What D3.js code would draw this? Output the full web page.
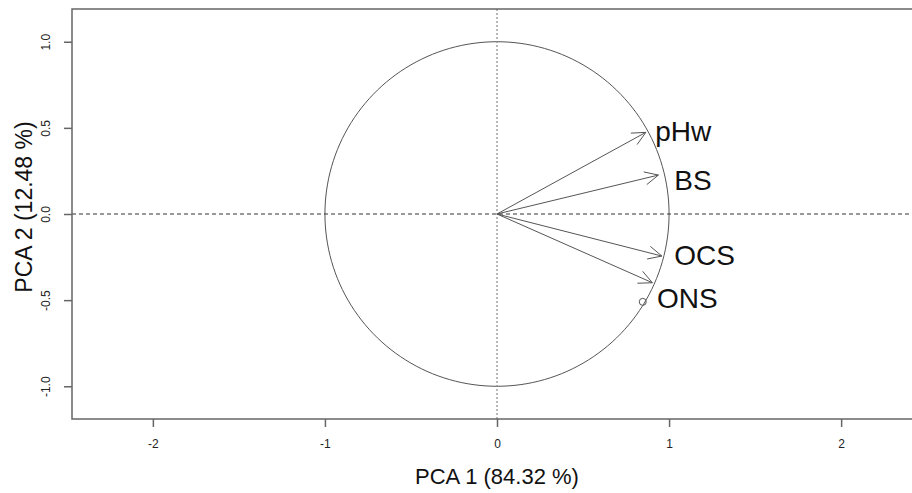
<!DOCTYPE html>
<html>
<head>
<meta charset="utf-8">
<script src="https://cdn.jsdelivr.net/npm/d3@7"></script>
<style>
  html, body { margin: 0; padding: 0; background: #fff; }
  svg { display: block; font-family: "Liberation Sans", Arial, sans-serif; }
</style>
</head>
<body>
<svg id="pca"></svg>
<script>
var _W = 912,
  _H = 493,
  _LEFT = 72,
  _RIGHT = 922,
  _TOP = 9,
  _BOTTOM = 419;

// variables and their loadings on PC1 / PC2
var varNames = ["pHw", "BS", "OCS", "ONS"];
var pc1 = [0.865, 0.938, 0.958, 0.903];
var pc2 = [0.474, 0.226, -0.244, -0.399];
// where the labels sit (data units, left edge / middle)
var labelX = [0.92, 1.03, 1.03, 0.93];
var labelY = [0.48, 0.20, -0.24, -0.49];
// extra open point
var pointX = [0.847];
var pointY = [-0.51];

var xTicks = [-2, -1, 0, 1, 2];
var yTicks = [-1.0, -0.5, 0.0, 0.5, 1.0];
var xTitle = "PCA 1 (84.32 %)";
var yTitle = "PCA 2 (12.48 %)";

var svg = d3.select('#pca')
  .attr('width', _W)
  .attr('height', _H);

var x = d3.scaleLinear().domain([-2.47, 2.47]).range([_LEFT, _RIGHT]);
var y = d3.scaleLinear().domain([-1.19, 1.19]).range([_BOTTOM, _TOP]);

// unit circle
var circ = d3.range(0, 361, 2).map(function(a) {
  var r = a * Math.PI / 180;
  return [Math.cos(r), Math.sin(r)];
});
svg.append('path')
  .attr('d', d3.line().x(function(d) { return x(d[0]); }).y(function(d) { return y(d[1]); })(circ))
  .attr('fill', 'none')
  .attr('stroke', '#555')
  .attr('stroke-width', 1);

// zero lines
svg.append('line')
  .attr('x1', _LEFT).attr('x2', _RIGHT)
  .attr('y1', y(0)).attr('y2', y(0))
  .attr('stroke', '#333')
  .attr('stroke-width', 1)
  .attr('stroke-dasharray', '4,3');

svg.append('line')
  .attr('x1', x(0)).attr('x2', x(0))
  .attr('y1', _TOP).attr('y2', _BOTTOM)
  .attr('stroke', '#888')
  .attr('stroke-width', 1.2)
  .attr('stroke-dasharray', '2,2');

// arrows
var headLen = 15, headAng = Math.PI / 7;
var arrows = svg.append('g').attr('stroke', '#555').attr('stroke-width', 1).attr('fill', 'none');
varNames.forEach(function(n, i) {
  var x0 = x(0), y0 = y(0), x1 = x(pc1[i]), y1 = y(pc2[i]);
  var ang = Math.atan2(y1 - y0, x1 - x0);
  arrows.append('line')
    .attr('x1', x0).attr('y1', y0).attr('x2', x1).attr('y2', y1);
  arrows.append('path')
    .attr('d', 'M' + (x1 - headLen * Math.cos(ang - headAng)) + ',' + (y1 - headLen * Math.sin(ang - headAng)) +
      'L' + x1 + ',' + y1 +
      'L' + (x1 - headLen * Math.cos(ang + headAng)) + ',' + (y1 - headLen * Math.sin(ang + headAng)));
});

// labels
svg.selectAll('text.lab')
  .data(varNames)
  .enter()
  .append('text')
  .attr('class', 'lab')
  .attr('x', function(d, i) { return x(labelX[i]); })
  .attr('y', function(d, i) { return y(labelY[i]); })
  .attr('dy', '0.36em')
  .attr('font-size', '28px')
  .attr('fill', '#111')
  .text(function(d) { return d; });

// open point
svg.selectAll('circle.pt')
  .data(pointX)
  .enter()
  .append('circle')
  .attr('class', 'pt')
  .attr('cx', function(d) { return x(d); })
  .attr('cy', function(d, i) { return y(pointY[i]); })
  .attr('r', 3.5)
  .attr('fill', 'none')
  .attr('stroke', '#555')
  .attr('stroke-width', 1);

// box
svg.append('rect')
  .attr('x', _LEFT).attr('y', _TOP)
  .attr('width', _RIGHT - _LEFT).attr('height', _BOTTOM - _TOP)
  .attr('fill', 'none')
  .attr('stroke', '#666')
  .attr('stroke-width', 1.5);

// axes
var xAxis = svg.append('g')
  .attr('transform', 'translate(0,' + _BOTTOM + ')')
  .call(d3.axisBottom(x).tickValues(xTicks).tickSize(8).tickPadding(12).tickFormat(d3.format('d')));
var yAxis = svg.append('g')
  .attr('transform', 'translate(' + _LEFT + ',0)')
  .call(d3.axisLeft(y).tickValues(yTicks).tickSize(8).tickPadding(0).tickFormat(d3.format('.1f')));

[xAxis, yAxis].forEach(function(a) {
  a.select('.domain').remove();
  a.selectAll('.tick line').attr('stroke', '#666').attr('stroke-width', 1.5);
  a.selectAll('.tick text')
    .attr('fill', '#222')
    .attr('font-size', '12px')
    .attr('font-family', '"Liberation Sans", Arial, sans-serif');
});
xAxis.selectAll('.tick text').text(function(d) { return String(d).replace('\u2212', '-'); });
yAxis.selectAll('.tick text')
  .text(function(d) { return d3.format('.1f')(d).replace('\u2212', '-'); })
  .attr('x', null)
  .attr('dy', null)
  .attr('text-anchor', 'middle')
  .attr('transform', 'translate(-25,0) rotate(-90)')
  .attr('dominant-baseline', 'middle');

// axis titles
svg.append('text')
  .attr('x', x(0))
  .attr('y', 484)
  .attr('text-anchor', 'middle')
  .attr('font-size', '22px')
  .attr('fill', '#111')
  .text(xTitle);

svg.append('text')
  .attr('transform', 'translate(32,' + 207 + ') rotate(-90)')
  .attr('text-anchor', 'middle')
  .attr('font-size', '23px')
  .attr('fill', '#111')
  .text(yTitle);
</script>
</body>
</html>
